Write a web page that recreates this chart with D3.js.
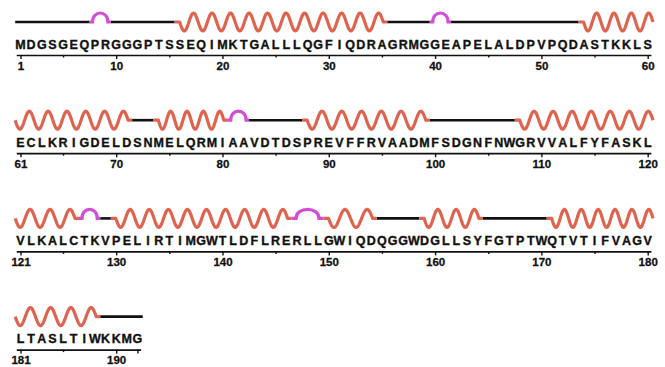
<!DOCTYPE html>
<html>
<head>
<meta charset="utf-8">
<script src="https://cdn.jsdelivr.net/npm/d3@7"></script>
<style>
  body { margin: 0; background: #fff; }
  svg { display: block; }
</style>
</head>
<body>
<div id="chart"></div>
<script>
// protein sequence, one letter per residue
const sequence = 'MDGSGEQPRGGGPTSSEQIMKTGALLLQGFIQDRAGRMGGEAPELALDPVPQDASTKKLS' +
  'ECLKRIGDELDSNMELQRMIAAVDTDSPREVFFRVAADMFSDGNFNWGRVVALFYFASKL' +
  'VLKALCTKVPELIRTIMGWTLDFLRERLLGWIQDQGGWDGLLSYFGTPTWQTVTIFVAGV' +
  'LTASLTIWKKMG';

// secondary structure, [first, last] residue
const helixRanges = [[16, 35], [54, 71], [74, 80], [88, 99], [108, 126],
  [130, 146], [150, 154], [159, 164], [171, 188]];
const turnRanges = [[8, 9], [40, 41], [81, 82], [127, 128], [147, 149]];

const perRow = 60;

const width = 665, height = 367;
const helixColor = '#de6450';
const turnColor = '#d04fd6';
const font = '"Liberation Sans", Arial, sans-serif';

const svg = d3.select('#chart')
  .append('svg')
  .attr('width', width)
  .attr('height', height);

const col = d3.scaleLinear().domain([0, perRow - 1]).range([20.5, 647.7]);
const rowY = d3.scaleLinear().domain([0, 1]).range([0, 98.2]);
const half = (col(1) - col(0)) / 2;

const n = sequence.length;
const state = new Array(n + 2).fill('C');
helixRanges.forEach(([a, b]) => { for (let i = a; i <= b; i++) state[i] = 'H'; });
turnRanges.forEach(([a, b]) => { for (let i = a; i <= b; i++) state[i] = 'T'; });

const lineY = 22;
const line = d3.line().x(d => d[0]).y(d => d[1]);

const nRows = Math.ceil(n / perRow);
for (let r = 0; r < nRows; r++) {
  const start = r * perRow + 1;
  const end = Math.min(n, start + perRow - 1);
  const xr = i => col(i - start);
  const g = svg.append('g').attr('transform', 'translate(0,' + rowY(r) + ')');

  // runs of same state within the row
  const runs = [];
  for (let i = start; i <= end; i++) {
    const last = runs[runs.length - 1];
    if (last && last.type === state[i]) last.b = i;
    else runs.push({ type: state[i], a: i, b: i });
  }

  g.selectAll('line.coil')
    .data(runs.filter(d => d.type === 'C'))
    .join('line')
    .attr('x1', d => xr(d.a) - half)
    .attr('x2', d => xr(d.b) + half)
    .attr('y1', lineY)
    .attr('y2', lineY)
    .attr('stroke', '#111')
    .attr('stroke-width', 2.6);

  const helixPath = d => {
    const x0 = xr(d.a) - half, x1 = xr(d.b) + half;
    const m0 = (d.a === start && state[d.a - 1] === 'H') ? 0 : 5;
    const m1 = (d.b === end && state[d.b + 1] === 'H') ? 0 : 4;
    const ws = x0 + m0, we = x1 - m1;
    const periods = Math.max(1, Math.round((we - ws) / 18.4));
    const pts = [[x0, lineY]];
    for (let k = 0; k <= 200; k++) {
      const t = k / 200;
      pts.push([ws + t * (we - ws), lineY + 9 * Math.sin(2 * Math.PI * periods * t)]);
    }
    pts.push([x1, lineY]);
    return line(pts);
  };

  g.selectAll('path.helix')
    .data(runs.filter(d => d.type === 'H'))
    .join('path')
    .attr('d', helixPath)
    .attr('fill', 'none')
    .attr('stroke', helixColor)
    .attr('stroke-width', 3.2)
    .attr('stroke-linejoin', 'round');

  g.selectAll('path.turn')
    .data(runs.filter(d => d.type === 'T'))
    .join('path')
    .attr('d', d => {
      const x0 = xr(d.a) - half, x1 = xr(d.b) + half;
      const w = (x1 - x0) * 0.72;
      const a = (x0 + x1) / 2 - w / 2, b = (x0 + x1) / 2 + w / 2;
      return 'M' + x0 + ',' + lineY + 'L' + a + ',' + lineY +
        'C' + a + ',' + (lineY - 12) + ' ' + b + ',' + (lineY - 12) + ' ' + b + ',' + lineY +
        'L' + x1 + ',' + lineY;
    })
    .attr('fill', 'none')
    .attr('stroke', turnColor)
    .attr('stroke-width', 3.2);

  // residue letters
  g.selectAll('text.res')
    .data(d3.range(start, end + 1))
    .join('text')
    .attr('class', 'res')
    .attr('x', i => xr(i))
    .attr('y', 48.5)
    .attr('text-anchor', 'middle')
    .style('font-family', font)
    .style('font-weight', 'bold')
    .style('font-size', '12.5px')
    .attr('fill', '#111')
    .attr('stroke', '#111')
    .attr('stroke-width', 0.35)
    .text(i => sequence[i - 1]);

  // numbering axis
  const ax = d3.scaleLinear()
    .domain([start - 0.4, end + 0.3])
    .range([xr(start) - 0.8 * half, xr(end) + 0.6 * half]);
  const all = d3.range(start, end + 1);
  const major = all.filter(i => i === start || i === end || i % 10 === 0);
  const minor = all.filter(i => i % 5 === 0 && i % 10 !== 0 && i !== start && i !== end);

  const axisG = g.append('g')
    .attr('transform', 'translate(0,55)')
    .call(d3.axisBottom(ax)
      .tickValues(major)
      .tickSize(4)
      .tickSizeOuter(0)
      .tickFormat(d => (d === start || d % 10 === 0) ? d : ''));
  axisG.select('.domain').attr('stroke', '#111').attr('stroke-width', 1.7);
  axisG.selectAll('.tick line').attr('stroke', '#111').attr('stroke-width', 1.4);
  axisG.selectAll('.tick text')
    .attr('y', 6.6)
    .attr('fill', '#111')
    .attr('stroke', '#111')
    .attr('stroke-width', 0.3)
    .style('font-family', font)
    .style('font-weight', 'bold')
    .style('font-size', '11.5px');

  g.append('g')
    .attr('transform', 'translate(0,55)')
    .call(d3.axisBottom(ax).tickValues(minor).tickSize(2.5).tickFormat(''))
    .call(s => s.select('.domain').remove())
    .selectAll('.tick line').attr('stroke', '#111').attr('stroke-width', 1.4);
}
</script>
</body>
</html>
